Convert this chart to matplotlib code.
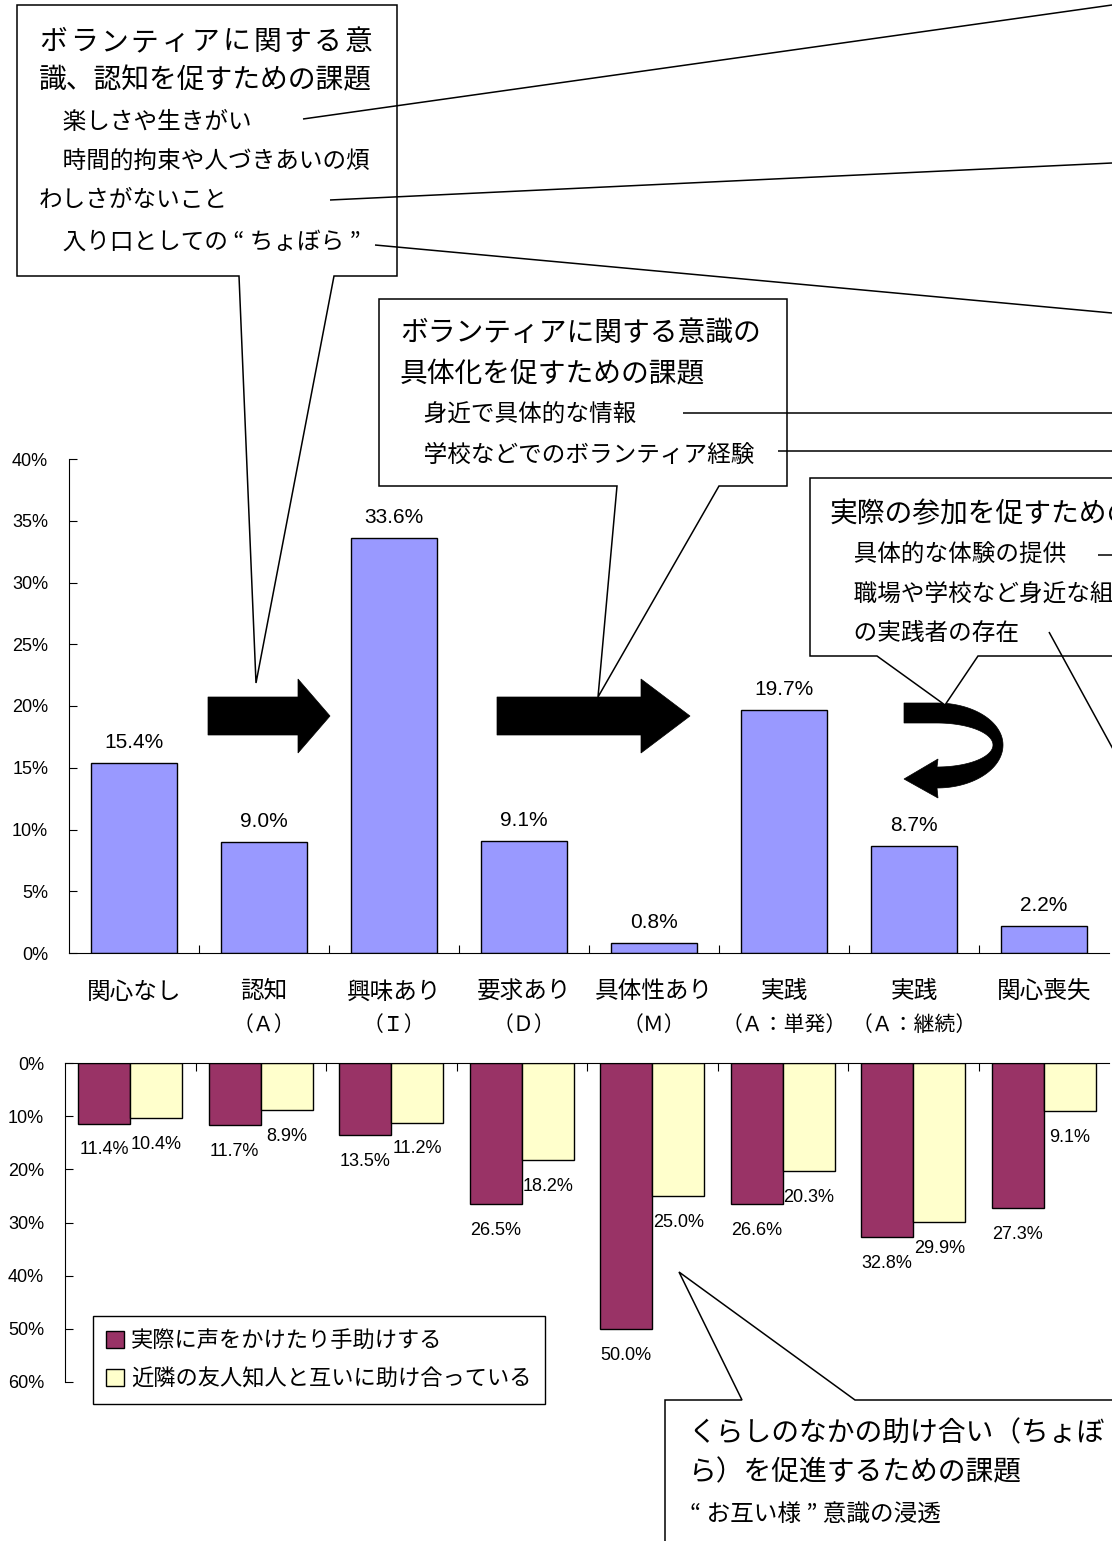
import numpy as np
import matplotlib
matplotlib.use("Agg")
import matplotlib.pyplot as plt
from matplotlib.patches import Polygon

plt.rcParams['font.family'] = ['Noto Sans CJK JP', 'DejaVu Sans']
NUM_FONT = 'Liberation Sans'

# 段階別の割合（上段）
stages = ["関心なし", "認知", "興味あり", "要求あり", "具体性あり", "実践", "実践", "関心喪失"]
stage_codes = ["", "（Ａ）", "（Ｉ）", "（Ｄ）", "（Ｍ）", "（Ａ：単発）", "（Ａ：継続）", ""]
stage_share = [15.4, 9.0, 33.6, 9.1, 0.8, 19.7, 8.7, 2.2]
top_ticks = [0, 5, 10, 15, 20, 25, 30, 35, 40]

# 助け合いの状況（下段）
help_labels = ["実際に声をかけたり手助けする", "近隣の友人知人と互いに助け合っている"]
help_actual = [11.4, 11.7, 13.5, 26.5, 50.0, 26.6, 32.8, 27.3]
help_mutual = [10.4, 8.9, 11.2, 18.2, 25.0, 20.3, 29.9, 9.1]
bottom_ticks = [0, 10, 20, 30, 40, 50, 60]

W, H = 1112, 1541
fig = plt.figure(figsize=(W / 100, H / 100), dpi=100)


def px_rect(x0, y0, x1, y1):
    # ピクセル座標 -> figure 座標
    return [x0 / W, 1 - y1 / H, (x1 - x0) / W, (y1 - y0) / H]


# ---- 上段グラフ ----
ax1 = fig.add_axes(px_rect(69, 459, 1109, 953))
x = np.arange(len(stages))
ax1.bar(x, stage_share, width=0.66, color="#9999FF", edgecolor="black", linewidth=1.0)
ax1.set_xlim(-0.5, len(stages) - 0.5)
ax1.set_ylim(0, 40)
ax1.set_yticks(top_ticks)
ax1.set_yticklabels([f"{t}%" for t in top_ticks])
ax1.set_xticks([])
ax1.set_xticks(np.arange(0.5, len(stages) - 0.5), minor=True)
ax1.tick_params(axis="x", which="minor", direction="in", length=5.5, width=0.8)
ax1.tick_params(axis="y", direction="in", length=5.5, width=0.8, pad=15,
                labelsize=13, labelfontfamily=NUM_FONT)
for s in ["top", "right"]:
    ax1.spines[s].set_visible(False)
for s in ["left", "bottom"]:
    ax1.spines[s].set_linewidth(0.8)

for i, v in enumerate(stage_share):
    ax1.annotate(f"{v:.1f}%", (i, v), xytext=(0, 14.5), textcoords="offset points",
                 ha="center", va="center", fontsize=15, family=NUM_FONT)

# カテゴリ名（2段）
for i, (name, code) in enumerate(zip(stages, stage_codes)):
    ax1.text(i, (953 - 992) / 494, name, ha="center", va="center", fontsize=17,
             transform=ax1.get_xaxis_transform())
    if code:
        ax1.text(i, (953 - 1025) / 494, code, ha="center", va="center", fontsize=15,
                 transform=ax1.get_xaxis_transform())

# ---- 下段グラフ ----
ax2 = fig.add_axes(px_rect(65, 1063, 1109, 1382))
b1 = ax2.bar(x - 0.2, help_actual, width=0.4, color="#993366", edgecolor="black",
             linewidth=1.0, label=help_labels[0])
b2 = ax2.bar(x + 0.2, help_mutual, width=0.4, color="#FFFFCC", edgecolor="black",
             linewidth=1.0, label=help_labels[1])
ax2.set_xlim(-0.5, len(stages) - 0.5)
ax2.set_ylim(60, 0)
ax2.set_yticks(bottom_ticks)
ax2.set_yticklabels([f"{t}%" for t in bottom_ticks])
ax2.xaxis.tick_top()
ax2.set_xticks([])
ax2.set_xticks(np.arange(0.5, len(stages) - 0.5), minor=True)
ax2.tick_params(axis="x", which="minor", direction="in", length=5.5, width=0.8, top=True, bottom=False)
ax2.tick_params(axis="y", direction="in", length=5.5, width=0.8, pad=15,
                labelsize=13, labelfontfamily=NUM_FONT)
for s in ["bottom", "right"]:
    ax2.spines[s].set_visible(False)
for s in ["left", "top"]:
    ax2.spines[s].set_linewidth(0.8)

for bars, vals in ((b1, help_actual), (b2, help_mutual)):
    for rect, v in zip(bars, vals):
        ax2.annotate(f"{v:.1f}%", (rect.get_x() + rect.get_width() / 2, v),
                     xytext=(0, -19), textcoords="offset points",
                     ha="center", va="center", fontsize=13, family=NUM_FONT)

leg = ax2.legend(loc="upper left", bbox_to_anchor=(93 / W, 1 - 1316 / H),
                 bbox_transform=fig.transFigure, fontsize=16, frameon=True,
                 fancybox=False, edgecolor="black", framealpha=1,
                 handlelength=0.8, handleheight=0.8, handletextpad=0.3,
                 borderpad=0.6, labelspacing=0.68, borderaxespad=0)
leg.get_frame().set_linewidth(1.0)

# ---- 吹き出し・矢印（ピクセル座標のオーバーレイ）----
ov = fig.add_axes([0, 0, 1, 1])
ov.set_xlim(0, W)
ov.set_ylim(H, 0)
ov.axis("off")

LW = 1.1


def callout(pts):
    ov.add_patch(Polygon(pts, closed=True, facecolor="white", edgecolor="black",
                         linewidth=LW, zorder=3))


def line(p0, p1):
    ov.plot([p0[0], p1[0]], [p0[1], p1[1]], color="black", linewidth=LW, zorder=4,
            solid_capstyle="butt")


def txt(xp, yp, s, size):
    ov.text(xp, yp, s, fontsize=size, ha="left", va="center", zorder=5)


def spaced_txt(xp, yp, s, size, step):
    # 均等割付の行
    for k, ch in enumerate(s):
        ov.text(xp + k * step, yp, ch, fontsize=size, ha="left", va="center", zorder=5)


MAIN, SUB = 20, 17

# 吹き出し1
callout([(17, 5), (397, 5), (397, 276), (334, 276), (256, 683), (239, 276), (17, 276)])
spaced_txt(39, 42, "ボランティアに関する意", MAIN, 30.6)
txt(39, 80, "識、認知を促すための課題", MAIN)
txt(39, 122, "　楽しさや生きがい", SUB)
txt(39, 162, "　時間的拘束や人づきあいの煩", SUB)
txt(39, 200, "わしさがないこと", SUB)
txt(39, 242, "　入り口としての “ ちょぼら ”", SUB)
line((303, 119), (1112, 5))
line((330, 200), (1112, 163))
line((375, 245), (1112, 313))

# 吹き出し2
callout([(379, 299), (787, 299), (787, 486), (719, 486), (598, 697), (617, 486), (379, 486)])
txt(400, 333, "ボランティアに関する意識の", MAIN)
txt(400, 374, "具体化を促すための課題", MAIN)
txt(400, 415, "　身近で具体的な情報", SUB)
txt(400, 455, "　学校などでのボランティア経験", SUB)
line((683, 413), (1115, 413))
line((778, 451), (1115, 451))

# 吹き出し3
callout([(810, 478), (1120, 478), (1120, 656), (978, 656), (945, 705), (877, 656), (810, 656)])
txt(830, 514, "実際の参加を促すための課題", MAIN)
txt(830, 555, "　具体的な体験の提供", SUB)
txt(830, 594, "　職場や学校など身近な組織", SUB)
txt(830, 633, "　の実践者の存在", SUB)
line((1098, 555), (1120, 555))
line((1049, 632), (1125, 771))

# 吹き出し4
callout([(665, 1400), (742, 1400), (679, 1272), (855, 1400), (1120, 1400), (1120, 1550), (665, 1550)])
txt(688, 1433, "くらしのなかの助け合い（ちょぼ", MAIN)
txt(688, 1472, "ら）を促進するための課題", MAIN)
txt(690, 1515, "“ お互い様 ” 意識の浸透", SUB)

# 太い矢印
for bx0, bx1, tip in ((208, 298, 330), (497, 641, 690)):
    ov.add_patch(Polygon([(bx0, 697), (bx1, 697), (bx1, 679), (tip, 716), (bx1, 753),
                          (bx1, 735), (bx0, 735)], closed=True, facecolor="black",
                         edgecolor="black", linewidth=0.5, zorder=2))

# 回転矢印
cx, cy = 937, 745
t = np.linspace(-np.pi / 2, np.pi / 2, 80)
outer = np.c_[cx + 66 * np.cos(t), cy + np.where(t < 0, 42, 43) * np.sin(t)]
inner = np.c_[cx + 56 * np.cos(t[::-1]), cy + 22 * np.sin(t[::-1])]
pts = np.vstack([[(904, 703)], outer, [(938, 798), (904, 779), (938, 759)], inner, [(904, 723)]])
ov.add_patch(Polygon(pts, closed=True, facecolor="black", edgecolor="black",
                     linewidth=0.5, zorder=2))

fig.savefig("out.png", dpi=100)
